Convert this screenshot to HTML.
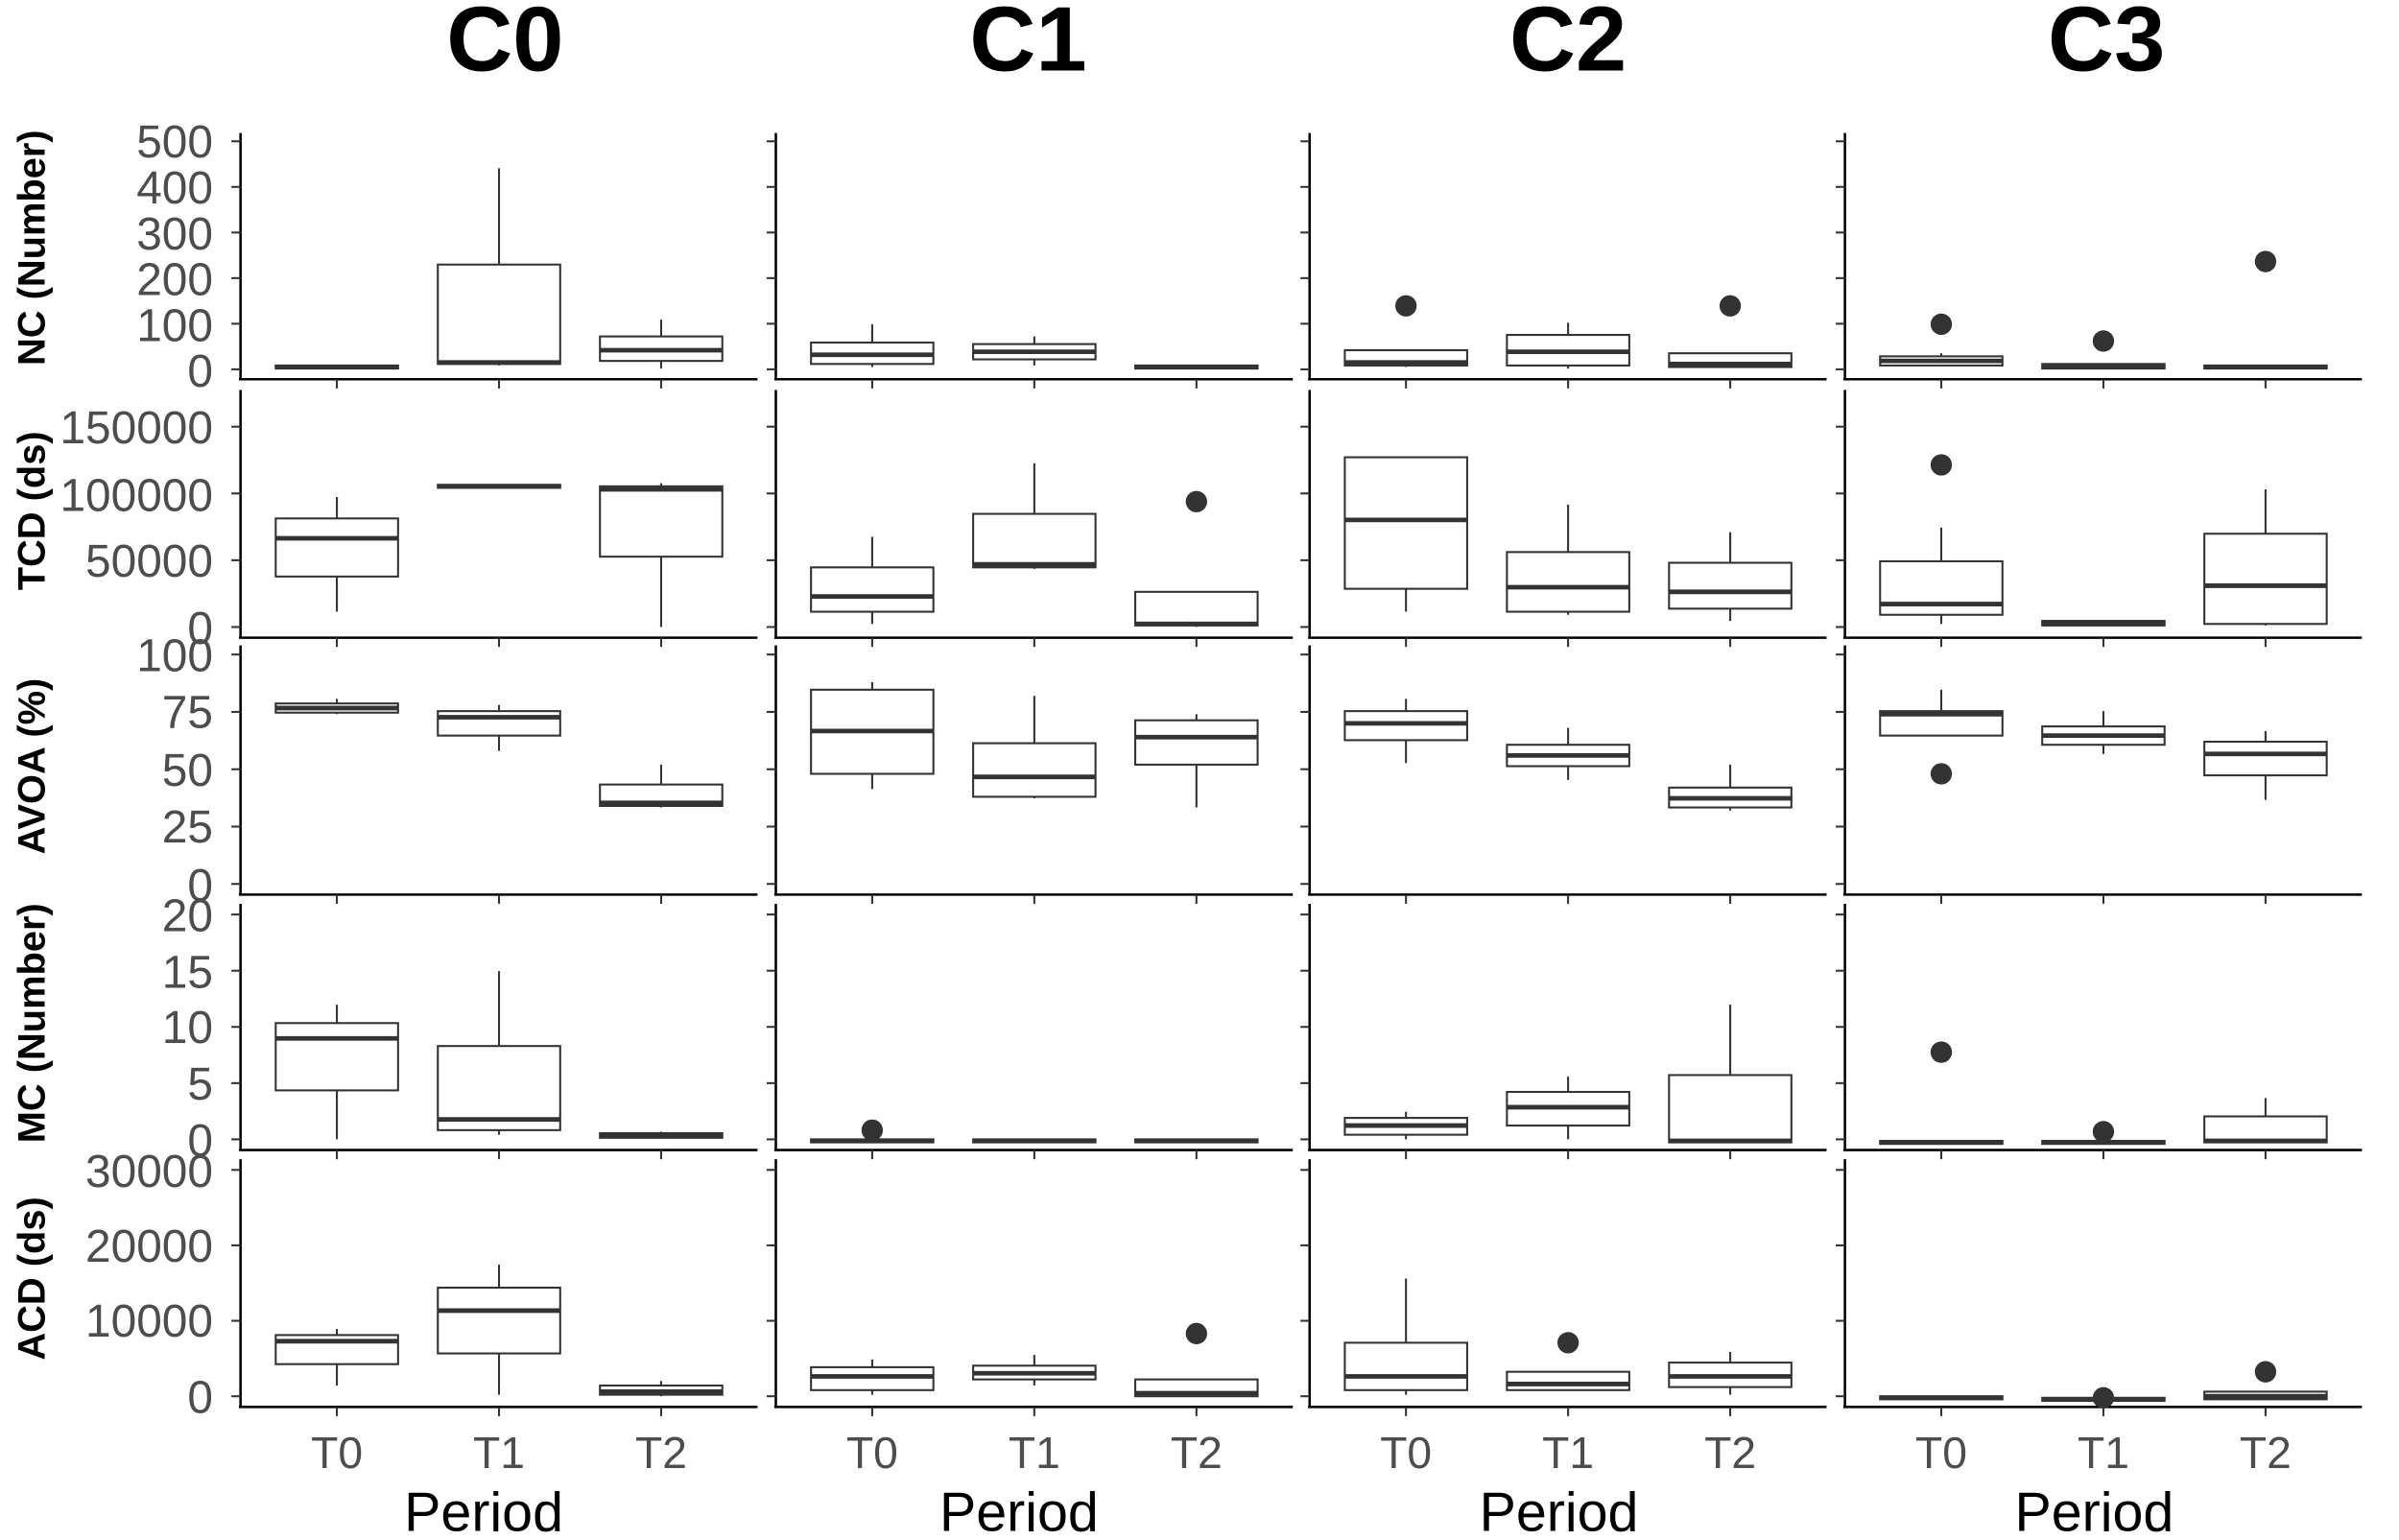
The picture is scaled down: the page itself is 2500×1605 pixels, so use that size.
<!DOCTYPE html>
<html><head><meta charset="utf-8"><style>
html,body{margin:0;padding:0;background:#fff}
svg{display:block}
text{font-family:"Liberation Sans",Arial,sans-serif}
.tl{font-size:30px;fill:#4d4d4d;text-anchor:end}
.xl{font-size:29px;fill:#4d4d4d;text-anchor:middle}
.rl{font-size:25px;font-weight:bold;fill:#000;text-anchor:middle}
.ct{font-size:60px;font-weight:bold;fill:#000;text-anchor:middle}
.pd{font-size:36px;fill:#000;text-anchor:middle}
</style></head><body>
<svg id="s" width="2500" height="1605" viewBox="0 0 1568 1007" xmlns="http://www.w3.org/2000/svg">
<rect width="1568" height="1007" fill="#fff"/>
<text class="ct" x="330" y="46">C0</text>
<text class="ct" x="672" y="46">C1</text>
<text class="ct" x="1025" y="46">C2</text>
<text class="ct" x="1377" y="46">C3</text>
<text class="rl" transform="translate(29,162) rotate(-90)">NC (Number)</text>
<text class="rl" transform="translate(29,334) rotate(-90)">TCD (ds)</text>
<text class="rl" transform="translate(29,501) rotate(-90)">AVOA (%)</text>
<text class="rl" transform="translate(29,669) rotate(-90)">MC (Number)</text>
<text class="rl" transform="translate(29,836) rotate(-90)">ACD (ds)</text>
<g>
<text class="tl" x="139" y="103">500</text>
<text class="tl" x="139" y="133">400</text>
<text class="tl" x="139" y="163">300</text>
<text class="tl" x="139" y="193">200</text>
<text class="tl" x="139" y="223">100</text>
<text class="tl" x="139" y="253">0</text>
<text class="tl" x="139" y="290">150000</text>
<text class="tl" x="139" y="334">100000</text>
<text class="tl" x="139" y="377">50000</text>
<text class="tl" x="139" y="421">0</text>
<text class="tl" x="139" y="439">100</text>
<text class="tl" x="139" y="476">75</text>
<text class="tl" x="139" y="514">50</text>
<text class="tl" x="139" y="551">25</text>
<text class="tl" x="139" y="589">0</text>
<text class="tl" x="139" y="609">20</text>
<text class="tl" x="139" y="646">15</text>
<text class="tl" x="139" y="682">10</text>
<text class="tl" x="139" y="719">5</text>
<text class="tl" x="139" y="756">0</text>
<text class="tl" x="139" y="776">30000</text>
<text class="tl" x="139" y="825">20000</text>
<text class="tl" x="139" y="874">10000</text>
<text class="tl" x="139" y="924">0</text>
</g>
<g>
<text class="xl" x="220" y="960">T0</text><text class="xl" x="326" y="960">T1</text><text class="xl" x="432" y="960">T2</text>
<text class="xl" x="570" y="960">T0</text><text class="xl" x="676" y="960">T1</text><text class="xl" x="782" y="960">T2</text>
<text class="xl" x="919" y="960">T0</text><text class="xl" x="1025" y="960">T1</text><text class="xl" x="1131" y="960">T2</text>
<text class="xl" x="1269" y="960">T0</text><text class="xl" x="1375" y="960">T1</text><text class="xl" x="1481" y="960">T2</text>
<text class="pd" x="316" y="1001">Period</text>
<text class="pd" x="666" y="1001">Period</text>
<text class="pd" x="1019" y="1001">Period</text>
<text class="pd" x="1369" y="1001">Period</text>
</g>
<g id="g"></g>
</svg>
<script>
var rows=[
 {t:87,b:248,y0:241.5,y1:92.4,n:5},
 {t:255,b:417,y0:410,y1:279,n:3},
 {t:422,b:585,y0:578,y1:428,n:4},
 {t:591,b:752,y0:745,y1:598,n:4},
 {t:758,b:920,y0:913,y1:765,n:3}];
var cols=[157,507,856,1206],W=338,off=[63,169,275];
var D=[
[[[239,241,240,239,241,[]],[173,238,237,110,239,[]],[220,236,229,209,241,[]]],
 [[224,238,232,212,240,[]],[225,235,230,220,239,[]],[239,241,240,239,241,[]]],
 [[229,239,237,229,240,[200]],[219,239,230,211,241,[]],[231,240,238,231,240,[200]]],
 [[233,239,236,231,239,[212]],[238,241,240,238,241,[223]],[239,241,240,239,241,[171]]]],
[[[339,377,352,325,400,[]],[317,319,318,317,319,[]],[318,364,320,316,410,[]]],
 [[371,400,390,351,408,[]],[336,371,369,303,372,[]],[387,409,408,387,410,[328]]],
 [[299,385,340,299,400,[]],[361,400,384,330,402,[]],[368,398,387,348,406,[]]],
 [[367,402,395,345,408,[304]],[406,409,408,406,409,[]],[349,408,383,320,409,[]]]],
[[[460,466,463,457,467,[]],[465,481,469,461,491,[]],[513,527,525,500,528,[]]],
 [[451,506,478,446,516,[]],[486,521,508,455,522,[]],[471,500,482,467,528,[]]],
 [[465,484,473,457,499,[]],[487,501,494,476,510,[]],[515,528,522,500,530,[]]],
 [[465,481,467,451,481,[506]],[475,487,481,465,493,[]],[485,507,493,478,523,[]]]],
[[[669,713,679,657,745,[]],[684,739,732,635,742,[]],[741,744,742,740,744,[]]],
 [[745,747,746,745,747,[739]],[745,747,746,745,747,[]],[745,747,746,745,747,[]]],
 [[731,742,736,727,745,[]],[714,736,724,704,745,[]],[703,747,746,657,747,[]]],
 [[746,748,747,746,748,[688]],[746,748,747,746,748,[740]],[730,747,746,718,747,[]]]],
[[[873,892,877,869,906,[]],[842,885,857,827,912,[]],[906,912,910,903,913,[]]],
 [[894,909,900,889,912,[]],[893,902,898,886,906,[]],[902,913,911,902,913,[872]]],
 [[878,909,900,836,912,[]],[897,909,905,897,909,[878]],[891,907,900,884,912,[]]],
 [[913,915,914,913,915,[]],[914,916,915,914,916,[914]],[910,915,913,910,915,[897]]]]];
var s='';
for(var r=0;r<5;r++){var R=rows[r];
 for(var c=0;c<4;c++){var x0=cols[c];
  s+='<line x1="'+x0+'" y1="'+R.t+'" x2="'+x0+'" y2="'+R.b+'" stroke="#000" stroke-width="1.6"/>';
  s+='<line x1="'+(x0-1)+'" y1="'+R.b+'" x2="'+(x0+W)+'" y2="'+R.b+'" stroke="#000" stroke-width="1.6"/>';
  for(var k=0;k<=R.n;k++){var yy=R.y0+(R.y1-R.y0)*k/R.n;
   s+='<line x1="'+(x0-6)+'" y1="'+yy+'" x2="'+x0+'" y2="'+yy+'" stroke="#333" stroke-width="1.3"/>';}
  for(var i=0;i<3;i++){var cx=x0+off[i];
   s+='<line x1="'+cx+'" y1="'+R.b+'" x2="'+cx+'" y2="'+(R.b+6)+'" stroke="#333" stroke-width="1.3"/>';
   var d=D[r][c][i];
   s+='<line x1="'+cx+'" y1="'+d[3]+'" x2="'+cx+'" y2="'+d[4]+'" stroke="#333" stroke-width="1.3"/>';
   s+='<rect x="'+(cx-40)+'" y="'+d[0]+'" width="80" height="'+Math.max(d[1]-d[0],1)+'" fill="#fff" stroke="#333" stroke-width="1.3"/>';
   s+='<line x1="'+(cx-40)+'" y1="'+d[2]+'" x2="'+(cx+40)+'" y2="'+d[2]+'" stroke="#333" stroke-width="3"/>';
   d[5].forEach(function(o){s+='<circle cx="'+cx+'" cy="'+o+'" r="7" fill="#333"/>';});
  }}}
document.getElementById('g').innerHTML=s;
</script>
</body></html>
